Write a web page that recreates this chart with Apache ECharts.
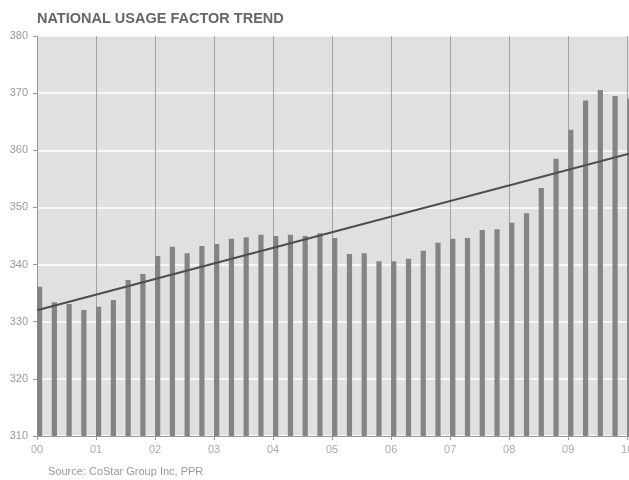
<!DOCTYPE html>
<html>
<head>
<meta charset="utf-8">
<script src="https://cdn.jsdelivr.net/npm/echarts@6/dist/echarts.min.js"></script>
<style>
  html, body { margin: 0; padding: 0; background: #ffffff; }
  #chart { width: 629px; height: 480px; }
</style>
</head>
<body>
<div id="chart"></div>
<script>
// Year tick labels (one per year, quarterly bars between them)
const yearLabels = ['00', '01', '02', '03', '04', '05', '06', '07', '08', '09', '10'];

// Quarterly national usage factor, Q1 2000 through Q1 2010
const usage = [
  336.1, 333.4, 333.1, 332.05,
  332.6, 333.8, 337.3, 338.35,
  341.5, 343.1, 342.0, 343.25,
  343.6, 344.5, 344.8, 345.2,
  345.0, 345.2, 345.0, 345.5,
  344.65, 341.85, 342.0, 340.6,
  340.6, 341.0, 342.4, 343.8,
  344.5, 344.65, 346.05, 346.2,
  347.3, 349.0, 353.4, 358.5,
  363.6, 368.7, 370.55, 369.5,
  369.0
];

// Linear trend line, start and end (years from 2000, value)
const trendX = [0, 10.03];
const trendY = [332.0, 359.4];

const Y_MIN = 310, Y_MAX = 380;
const FONT = '"Liberation Sans", Arial, Helvetica, sans-serif';

const barData = usage.map((v, i) => [i / 4, v]);
const trendData = trendX.map((x, i) => [x, trendY[i]]);

const chart = echarts.init(document.getElementById('chart'));
chart.setOption({
  animation: false,
  backgroundColor: '#ffffff',
  textStyle: { fontFamily: FONT },
  title: {
    text: 'NATIONAL USAGE FACTOR TREND',
    left: 32,
    top: 6,
    textStyle: { fontFamily: FONT, fontSize: 14.5, fontWeight: 'bold', color: '#666666' }
  },
  graphic: [{
    type: 'text',
    left: 48,
    top: 466,
    style: { text: 'Source: CoStar Group Inc, PPR', font: '11px ' + FONT, fill: '#999999' }
  }],
  grid: {
    left: 37, right: 0, top: 36, bottom: 44,
    outerBoundsMode: 'none',
    containLabel: false,
    show: true, backgroundColor: '#e0e0e0', borderWidth: 0
  },
  xAxis: {
    type: 'value',
    min: 0, max: 10.03, interval: 1,
    axisLine: { show: true, lineStyle: { color: '#9a9a9a', width: 1 } },
    axisTick: { show: true, length: 4, lineStyle: { color: '#9a9a9a' } },
    axisLabel: {
      color: '#aaaaaa', fontSize: 11, fontFamily: FONT, margin: 8,
      showMaxLabel: false,
      hideOverlap: false,
      formatter: v => (Number.isInteger(v) && yearLabels[v] !== undefined) ? yearLabels[v] : ''
    },
    splitLine: { show: true, lineStyle: { color: '#a3a3a3', width: 1 } }
  },
  yAxis: {
    type: 'value',
    min: Y_MIN, max: Y_MAX, interval: 10,
    axisLine: { show: true, lineStyle: { color: '#9a9a9a', width: 1 } },
    axisTick: { show: true, length: 4, lineStyle: { color: '#9a9a9a' } },
    axisLabel: { color: '#999999', fontSize: 11, fontFamily: FONT, margin: 9 },
    splitLine: { show: true, lineStyle: { color: '#ffffff', width: 1.5 } }
  },
  series: [
    {
      name: 'Usage factor',
      type: 'custom',
      data: barData,
      z: 2,
      renderItem: function (params, api) {
        const x = api.value(0);
        const top = api.coord([x, api.value(1)]);
        const base = api.coord([x, Y_MIN]);
        return {
          type: 'rect',
          shape: { x: top[0], y: top[1], width: 5.2, height: base[1] - top[1] },
          style: { fill: '#848484' }
        };
      }
    },
    {
      name: 'Trend',
      type: 'line',
      data: trendData,
      z: 3,
      symbol: 'none',
      lineStyle: { color: '#4d4d4d', width: 2 }
    }
  ]
});
</script>
</body>
</html>
